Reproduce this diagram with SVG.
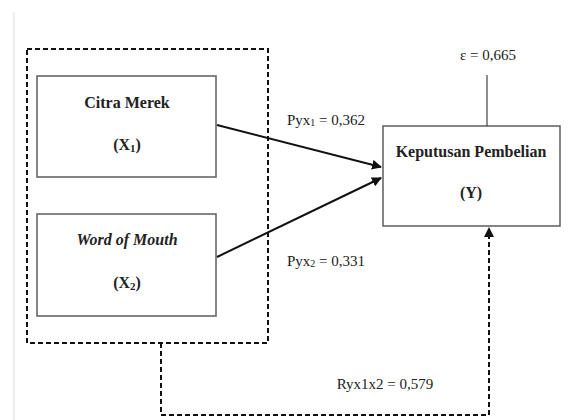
<svg xmlns="http://www.w3.org/2000/svg" width="568" height="420" viewBox="0 0 568 420">
<defs>
<marker id="ah" viewBox="0 0 10 10" refX="9" refY="5" markerWidth="10" markerHeight="10" markerUnits="userSpaceOnUse" orient="auto">
<path d="M0,0 L10,5 L0,10 z" fill="#111"/>
</marker>
<style>
.box{fill:#fff;stroke:#666;stroke-width:1.6}
.dash{fill:none;stroke:#111;stroke-width:2;stroke-dasharray:5,3}
.arr{stroke:#111;stroke-width:2;fill:none}
.t{font-family:"Liberation Serif","Times New Roman",serif;fill:#222;text-anchor:middle}
.b{font-weight:bold;font-size:16px}
.n{font-size:15px}
</style>
</defs>
<rect width="568" height="420" fill="#fff"/>
<line x1="14" y1="12" x2="14" y2="420" stroke="#e2e2e2" stroke-width="1.2"/>
<rect class="dash" x="27" y="49" width="241" height="294"/>
<g id="x1">
<rect class="box" x="37" y="76" width="179" height="101"/>
<text class="t b" x="127" y="108">Citra Merek</text>
<text class="t b" x="127" y="150">(X<tspan font-size="11" dy="2">1</tspan><tspan dy="-2">)</tspan></text>
</g>
<g id="x2">
<rect class="box" x="37" y="214" width="179" height="102"/>
<text class="t b" x="127" y="245" font-style="italic">Word of Mouth</text>
<text class="t b" x="127" y="288">(X<tspan font-size="11" dy="2">2</tspan><tspan dy="-2">)</tspan></text>
</g>
<g id="y">
<rect class="box" x="383" y="126" width="177" height="100"/>
<text class="t b" x="471" y="157">Keputusan Pembelian</text>
<text class="t b" x="471" y="198">(Y)</text>
</g>
<g id="epsilon">
<text class="t n" x="488" y="60">ε = 0,665</text>
</g>
<g id="connectors">
<line class="arr" x1="217" y1="125" x2="381" y2="167" marker-end="url(#ah)"/>
<line class="arr" x1="217" y1="257" x2="381" y2="178" marker-end="url(#ah)"/>
<line x1="487" y1="75" x2="487" y2="126" stroke="#444" stroke-width="1.2"/>
<polyline class="dash" points="161,343 161,415 489,415 489,236"/>
<path d="M484,237 L489,227 L494,237 z" fill="#111"/>
<text class="t n" x="326" y="125">Pyx<tspan font-size="10" dy="1">1</tspan><tspan dy="-1"> = 0,362</tspan></text>
<text class="t n" x="326" y="266">Pyx<tspan font-size="10" dy="1">2</tspan><tspan dy="-1"> = 0,331</tspan></text>
<text class="t n" x="385" y="389">Ryx1x2 = 0,579</text>
</g>
</svg>
